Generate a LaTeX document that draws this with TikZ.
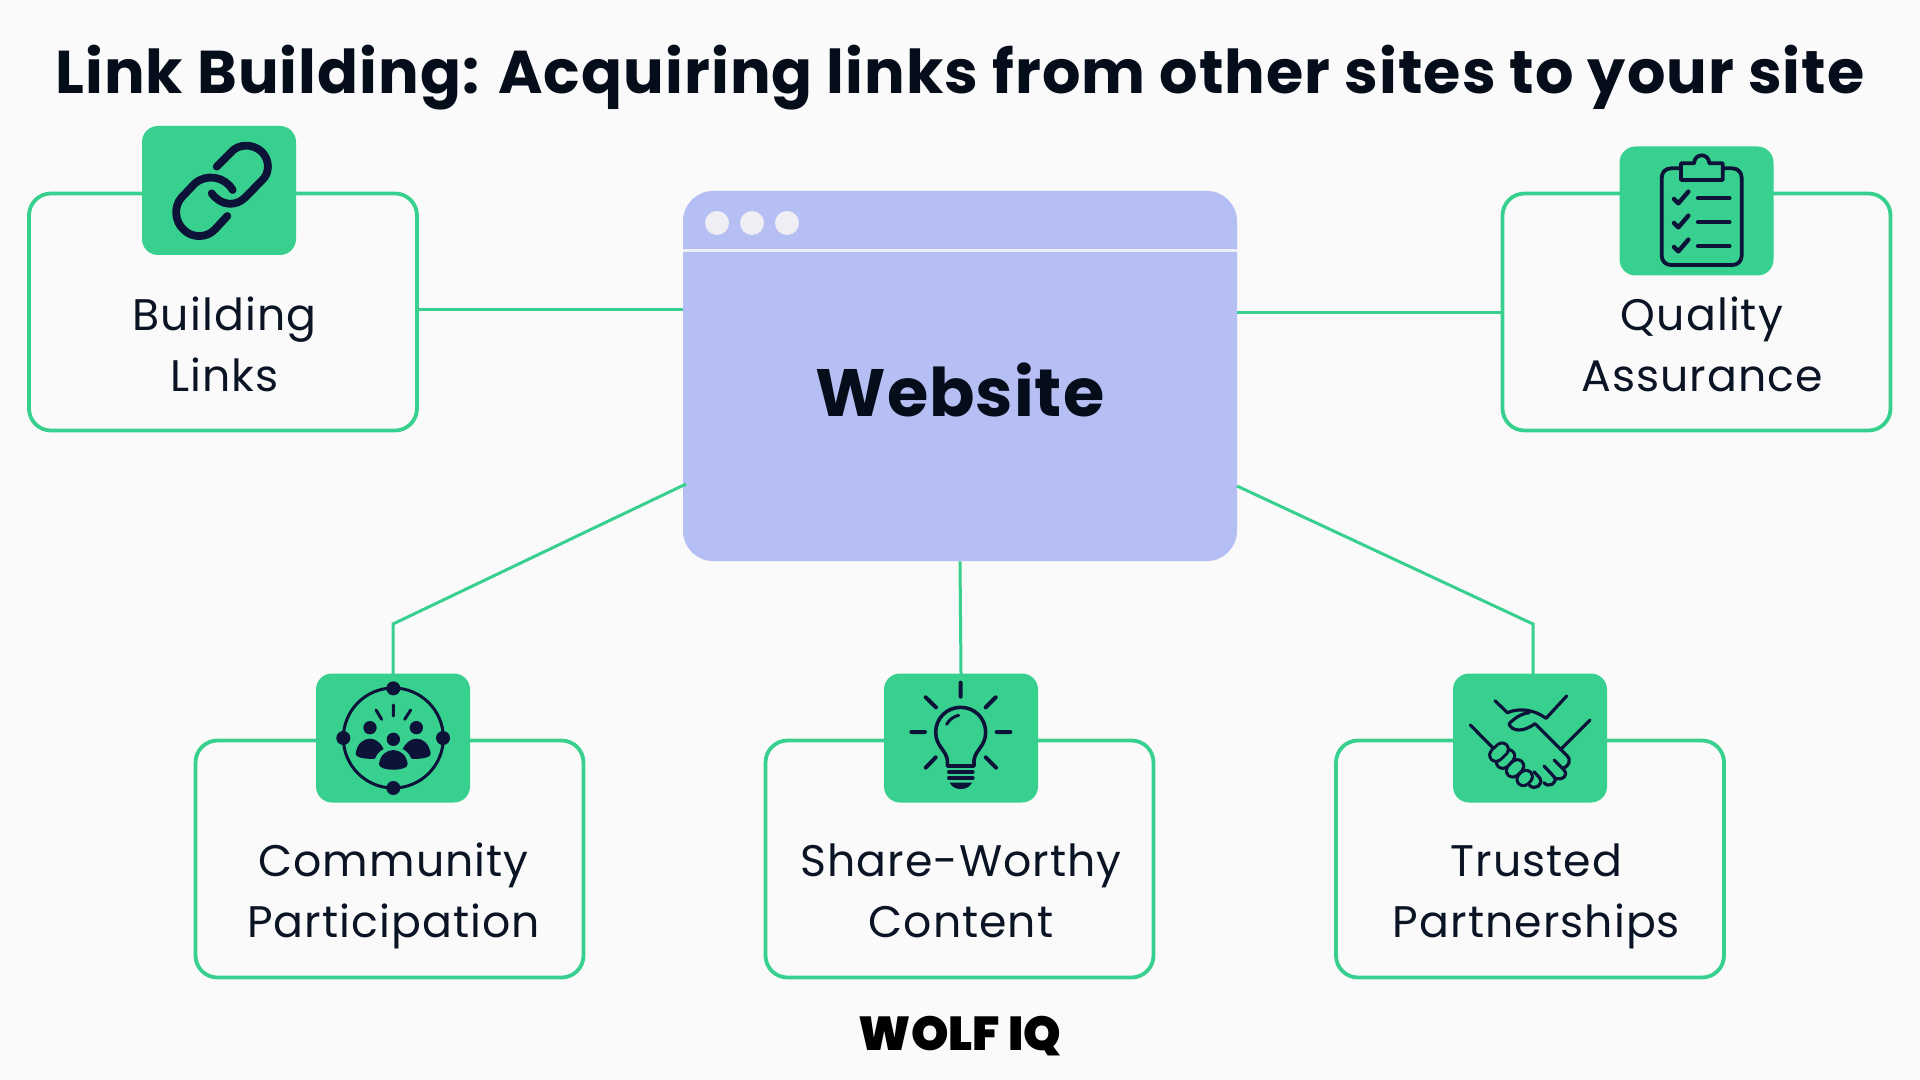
\documentclass[tikz,border=0pt]{standalone}
\usepackage{fontspec}
\setmainfont{Poppins}
\newfontfamily\wolffont{Poppins}[UprightFont=* Black]
\newfontfamily\titlefont{Poppins}[LetterSpace=1.8,BoldFont=* Bold]
\newfontfamily\webfont{Poppins}[LetterSpace=1.5,BoldFont=* Bold]
\newfontfamily\labelfont{Poppins}[LetterSpace=2.4]
\definecolor{pagebg}{HTML}{FAFAFA}
\definecolor{mint}{HTML}{38D08E}
\definecolor{lav}{HTML}{B5BFF3}
\definecolor{ink}{HTML}{0D1238}
\definecolor{txt}{HTML}{0A1424}
\definecolor{ttl}{HTML}{050D1A}
\definecolor{dotc}{HTML}{EEEEF4}
\tikzset{
 frame/.style={draw=mint,line width=1.9pt,rounded corners=11pt,minimum width=194pt,minimum height=118.5pt,inner sep=0pt},
 iconbox/.style={fill=mint,rounded corners=8pt,minimum width=77pt,minimum height=64.5pt,inner sep=0pt},
 wire/.style={draw=mint,line width=1.5pt},
 label/.style={font=\labelfont\fontsize{22.1}{30.5}\selectfont,text=txt,align=center,inner sep=0pt},
 zoomed/.style 2 args={shift={(#1,#2)},x=0.16667pt,y=-0.16667pt},
 ln/.style={draw=ink,line width=#1,line cap=round,line join=round},
 ln/.default=1.9pt
}
\begin{document}
\begin{tikzpicture}[x=0.5pt,y=-0.5pt]
\fill[pagebg] (0,0) rectangle (1920,1080);
\useasboundingbox (0,0) rectangle (1920,1080);
% title
\node[anchor=base,inner sep=0pt,text=ttl,font=\titlefont\fontsize{30.2}{36}\selectfont\bfseries] (title) at (960,94) {Link Building: Acquiring links from other sites to your site};
% boxes
\node[frame] (build) at (223,312) {};
\node[frame] (quality) at (1696.5,312) {};
\node[frame] (community) at (389.5,859) {};
\node[frame] (share) at (959.5,859) {};
\node[frame] (trusted) at (1530,859) {};
% website
\node[fill=lav,rounded corners=15pt,minimum width=277pt,minimum height=185pt,inner sep=0pt] (website) at (960,376) {};
\draw[dotc,line width=1.5pt] (website.west |- 0,251) coordinate (sepL) -- (website.east |- 0,251) coordinate (sepR);
\fill[dotc] (717,223) circle[radius=12] (752,223) circle[radius=12] (787,223) circle[radius=12];
\node[anchor=base,inner sep=0pt,text=ttl,font=\webfont\fontsize{33.5}{40}\selectfont\bfseries] (websitetext) at (960,416) {Website};
% connectors
\coordinate (wa) at (683,310);
\coordinate (wb) at (1237,313);
\coordinate (wc) at (686,484);
\coordinate (wd) at (393,624);
\coordinate (we) at (1237,486);
\coordinate (wf) at (1533,624);
\coordinate (ga) at (393,674);
\coordinate (gb) at (1533,674);
\coordinate (ba) at (418,310);
\coordinate (bb) at (1502,313);
\coordinate (gc) at (961,674);
\draw[wire] (ba) -- (wa);
\draw[wire] (wb) -- (bb);
\draw[wire] (wc) -- (wd) -- (ga);
\draw[wire] (website.south) -- (gc);
\draw[wire] (we) -- (wf) -- (gb);
% icon boxes
\node[iconbox] (i1) at (219,190.5) {};
\node[iconbox] (i2) at (1696.5,211) {};
\node[iconbox] (i3) at (393,738) {};
\node[iconbox] (i4) at (961,738) {};
\node[iconbox] (i5) at (1530,738) {};
% link icon
\begin{scope}[zoomed={120}{110}]
\draw[ln=3.9pt] (290,170) -- (338,122) .. controls (355,105) and (395,98) .. (425,125) .. controls (450,150) and (450,190) .. (425,212) -- (378,260) .. controls (350,290) and (305,290) .. (275,250);
\draw[ln=3.9pt] (338,240) .. controls (315,200) and (260,190) .. (225,220) -- (185,262) .. controls (160,290) and (165,335) .. (190,358) .. controls (215,385) and (260,385) .. (285,358) -- (322,318);
\end{scope}
% clipboard icon
\begin{scope}[zoomed={1600}{130}]
\draw[ln] (243,115) -- (213,115) .. controls (197,115) and (185,127) .. (185,143) -- (185,377) .. controls (185,393) and (197,405) .. (213,405) -- (397,405) .. controls (413,405) and (425,393) .. (425,377) -- (425,143) .. controls (425,127) and (413,115) .. (397,115) -- (368,115);
\draw[ln] (243,100) -- (282,100) .. controls (284,68) and (326,68) .. (328,100) -- (368,100) -- (368,150) -- (243,150) -- cycle;
\foreach \dy in {0,72,144}{
 \draw[ln=2.2pt] (222,{207+\dy}) -- (235,{220+\dy}) -- (265,{185+\dy});
 \draw[ln=2.2pt] (294,{204+\dy}) -- (388,{204+\dy});
}
\end{scope}
% community icon
\begin{scope}[zoomed={300}{660}]
\draw[ink,line width=1.5pt] (280,234) circle[radius=150];
\fill[ink] (280,85) circle[radius=21] (130,234) circle[radius=21] (429,234) circle[radius=21] (280,384) circle[radius=21];
\draw[ln=1.5pt] (280,135) -- (280,168) (228,150) -- (245,178) (332,150) -- (314,178);
\fill[ink] (210,203) circle[radius=20] (349,203) circle[radius=20] (280,238) circle[radius=20];
\fill[ink] (167,280) .. controls (172,250) and (190,236) .. (210,236) .. controls (228,236) and (243,250) .. (251,267) .. controls (240,272) and (230,282) .. (225,296) .. controls (205,298) and (165,295) .. (167,280) -- cycle;
\fill[ink] (392,280) .. controls (387,250) and (369,236) .. (349,236) .. controls (331,236) and (316,250) .. (308,267) .. controls (319,272) and (329,282) .. (334,296) .. controls (354,298) and (394,295) .. (392,280) -- cycle;
\fill[ink] (237,312) .. controls (240,285) and (260,270) .. (280,270) .. controls (300,270) and (320,285) .. (323,312) .. controls (325,335) and (235,335) .. (237,312) -- cycle;
\end{scope}
% bulb icon
\begin{scope}[zoomed={870}{660}]
\draw[ln=2pt] (272,68) -- (272,110) (167,112) -- (198,142) (377,112) -- (347,142) (124,216) -- (165,216) (380,216) -- (421,216) (197,292) -- (167,323) (347,292) -- (378,323);
\draw[ln=1.8pt] (232,318) -- (232,300) .. controls (228,270) and (197,258) .. (197,217) .. controls (197,175) and (230,142) .. (272,142) .. controls (314,142) and (347,175) .. (347,217) .. controls (347,258) and (316,270) .. (312,300) -- (312,318) -- cycle;
\draw[ln=1.5pt] (230,193) .. controls (238,178) and (250,170) .. (266,166);
\draw[ln=2pt] (237,335) -- (308,335) (237,354) -- (308,354);
\fill[ink] (239,368) -- (306,368) .. controls (300,380) and (288,387) .. (272,387) .. controls (256,387) and (245,380) .. (239,368) -- cycle;
\end{scope}
% handshake icon
\begin{scope}[zoomed={1440}{660}]
\draw[ln=1.6pt] (91,195) -- (160,265);
\draw[ln=1.6pt] (450,180) -- (362,268);
\draw[ln=1.6pt] (165,122) -- (202,158) .. controls (240,142) and (285,150) .. (318,175) -- (380,108);
\draw[ln=1.6pt] (268,158) .. controls (245,160) and (222,175) .. (207,192) .. controls (215,212) and (245,220) .. (285,191) -- (380,286) .. controls (395,300) and (388,318) .. (368,325) (342,300) -- (372,330) .. controls (385,345) and (370,362) .. (348,355) (312,318) -- (342,350) .. controls (355,370) and (325,385) .. (312,368) (282,335) -- (300,355) .. controls (310,375) and (285,392) .. (268,376);
\foreach \ax/\ay/\bx/\by in {250/358/258/350,218/332/232/318,188/306/205/288,168/285/186/268}{
 \draw[ink,line width=7.9pt,line cap=round] (\ax,\ay) -- (\bx,\by);
 \draw[mint,line width=4.9pt,line cap=round] (\ax,\ay) -- (\bx,\by);
}
\end{scope}
% labels
\node[label] (l1) at (224.5,349) {\strut Building\\\strut Links};
\node[label] (l2) at (1702,349) {\strut Quality\\\strut Assurance};
\node[label] (l3) at (393.5,895) {\strut Community\\\strut Participation};
\node[label] (l4) at (961,895) {\strut Share-Worthy\\\strut Content};
\node[label] (l5) at (1536.5,895) {\strut Trusted\\\strut Partnerships};
% logo
\node[anchor=base,inner sep=0pt,text=black,font=\wolffont\fontsize{23.8}{30}\selectfont] (logo) at (960,1050) {WOLF IQ};
\end{tikzpicture}
\end{document}
